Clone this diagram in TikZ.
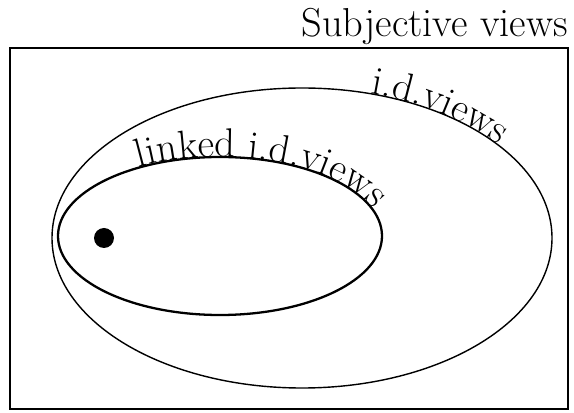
\documentclass[tikz,border=0pt]{standalone}
\usepackage{tikz}
\usetikzlibrary{decorations.text}

\tikzset{
  bigfont/.style={font=\fontsize{23}{27}\selectfont},
  frameline/.style={line width=1.2pt},
  outerline/.style={line width=0.8pt},
  innerline/.style={line width=1.3pt}
}

\begin{document}
\begin{tikzpicture}[x=0.02cm, y=0.02cm]
  \useasboundingbox (0,0) rectangle (574,412);
  % frame and heading
  \draw[frameline] (10,3) rectangle (568,364);
  \node[bigfont, anchor=base east, inner sep=0pt] (title) at (568,375) {Subjective views};

  % i.d. views
  \draw[outerline] (302,174) ellipse [x radius=250, y radius=150];
  \path[decorate, decoration={text along path, text align=left,
      text={|\fontsize{23}{27}\selectfont|i.d.views}}]
    ([shift={(74:250 and 150)}]302,174) arc [start angle=74, end angle=5, x radius=250, y radius=150];

  % linked i.d. views
  \draw[innerline] (220,176) ellipse [x radius=162, y radius=79];
  \path[decorate, decoration={text along path, text align=left,
      text={|\fontsize{23}{27}\selectfont|linked i.d.views}}]
    ([shift={(120:162 and 79)}]220,176) arc [start angle=120, end angle=-10, x radius=162, y radius=79];

  \fill (104,174) circle [radius=10];
\end{tikzpicture}
\end{document}
